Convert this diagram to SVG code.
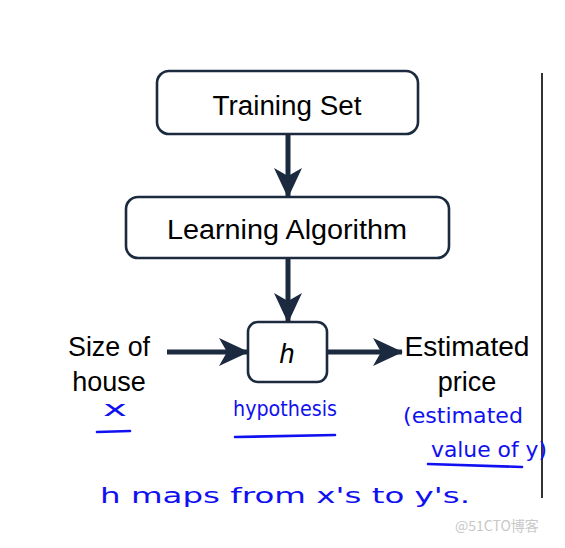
<svg xmlns="http://www.w3.org/2000/svg" width="565" height="548" viewBox="0 0 565 548">
<style>
.box{fill:#fff;stroke:#1c2a3f;stroke-width:2.6}
.lbl{font-family:"Liberation Sans",Arial,sans-serif;font-size:27px;fill:#000;text-anchor:middle}
.conn{stroke:#1c2a3f;stroke-width:5;fill:none;marker-end:url(#ah)}
.hw{font-family:"DejaVu Sans",sans-serif;fill:#1010f0;font-size:21px}
.ul{stroke:#1010f0;stroke-width:2.6;fill:none;stroke-linecap:round}
</style>
<defs>
<marker id="ah" viewBox="0 0 30 30" markerWidth="30" markerHeight="30" refX="29" refY="15" orient="auto" markerUnits="userSpaceOnUse">
<path d="M0,1 L30,15 L0,29 L8,15 z" fill="#1c2a3f"/>
</marker>
</defs>
<rect width="565" height="548" fill="#fff"/>
<g id="training-set">
<rect class="box" x="157" y="71" width="261" height="63" rx="12"/>
<text class="lbl" x="287" y="115" textLength="149" lengthAdjust="spacingAndGlyphs">Training Set</text>
</g>
<g id="learning-algorithm">
<rect class="box" x="126" y="197" width="323" height="61" rx="12"/>
<text class="lbl" x="287" y="239" textLength="240" lengthAdjust="spacingAndGlyphs">Learning Algorithm</text>
</g>
<g id="h">
<rect class="box" x="248" y="322" width="79" height="60" rx="10"/>
<text class="lbl" x="287" y="363" font-style="italic">h</text>
</g>
<g id="size-of-house">
<text class="lbl" x="109" y="356" textLength="82" lengthAdjust="spacingAndGlyphs">Size of</text>
<text class="lbl" x="109" y="391">house</text>
</g>
<g id="estimated-price">
<text class="lbl" x="467" y="356" textLength="125" lengthAdjust="spacingAndGlyphs">Estimated</text>
<text class="lbl" x="467" y="391">price</text>
</g>
<g id="connectors">
<line class="conn" x1="288" y1="134" x2="288" y2="197"/>
<line class="conn" x1="288" y1="258" x2="288" y2="322"/>
<line class="conn" x1="167" y1="352" x2="248" y2="352"/>
<line class="conn" x1="327" y1="352" x2="402" y2="352"/>
</g>
<line x1="542" y1="73" x2="542" y2="498" stroke="#333" stroke-width="2"/>
<g id="notes">
<text class="hw" x="103" y="416" textLength="24" lengthAdjust="spacingAndGlyphs">x</text>
<path class="ul" d="M97,432 L130,431"/>
<text class="hw" x="233" y="416" textLength="104" lengthAdjust="spacingAndGlyphs">hypothesis</text>
<path class="ul" d="M235,437 L335,435"/>
<text class="hw" x="403" y="423" textLength="120" lengthAdjust="spacingAndGlyphs">(estimated</text>
<text class="hw" x="431" y="457" textLength="116" lengthAdjust="spacingAndGlyphs">value of y)</text>
<path class="ul" d="M428,464 L522,467"/>
<text class="hw" x="100" y="503" font-size="30" textLength="370" lengthAdjust="spacingAndGlyphs">h  maps  from  x's  to  y's.</text>
</g>
<text x="455" y="531" font-family="'Noto Sans CJK SC',sans-serif" font-size="14" fill="#c8c8c8">@51CTO博客</text>
</svg>
